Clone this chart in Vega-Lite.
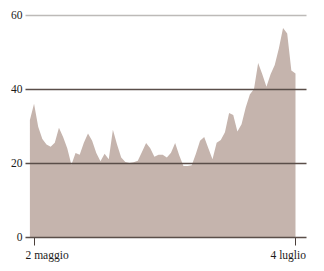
{
  "$schema": "https://vega.github.io/schema/vega-lite/v6.json",
  "autosize": {"type": "none"},
  "width": 281,
  "height": 222,
  "padding": {"left": 25, "top": 15, "right": 18, "bottom": 34},
  "background": "white",
  "config": {
    "view": {"stroke": null},
    "font": "Liberation Serif"
  },
  "data": {
    "values": [
      {"date": "2020-05-01", "value": 31.6},
      {"date": "2020-05-02", "value": 36},
      {"date": "2020-05-03", "value": 29.8},
      {"date": "2020-05-04", "value": 26.5},
      {"date": "2020-05-05", "value": 25},
      {"date": "2020-05-06", "value": 24.4},
      {"date": "2020-05-07", "value": 25.5},
      {"date": "2020-05-08", "value": 29.5},
      {"date": "2020-05-09", "value": 27},
      {"date": "2020-05-10", "value": 24},
      {"date": "2020-05-11", "value": 19.5},
      {"date": "2020-05-12", "value": 22.7},
      {"date": "2020-05-13", "value": 22.2},
      {"date": "2020-05-14", "value": 25.5},
      {"date": "2020-05-15", "value": 28},
      {"date": "2020-05-16", "value": 26},
      {"date": "2020-05-17", "value": 22.7},
      {"date": "2020-05-18", "value": 20.5},
      {"date": "2020-05-19", "value": 22.5},
      {"date": "2020-05-20", "value": 21},
      {"date": "2020-05-21", "value": 29},
      {"date": "2020-05-22", "value": 25},
      {"date": "2020-05-23", "value": 21.5},
      {"date": "2020-05-24", "value": 20.3},
      {"date": "2020-05-25", "value": 20},
      {"date": "2020-05-26", "value": 20.2},
      {"date": "2020-05-27", "value": 20.6},
      {"date": "2020-05-28", "value": 23},
      {"date": "2020-05-29", "value": 25.4},
      {"date": "2020-05-30", "value": 24},
      {"date": "2020-05-31", "value": 21.7},
      {"date": "2020-06-01", "value": 22.2},
      {"date": "2020-06-02", "value": 22.2},
      {"date": "2020-06-03", "value": 21.5},
      {"date": "2020-06-04", "value": 22.8},
      {"date": "2020-06-05", "value": 25.4},
      {"date": "2020-06-06", "value": 22},
      {"date": "2020-06-07", "value": 19.2},
      {"date": "2020-06-08", "value": 19.2},
      {"date": "2020-06-09", "value": 19.4},
      {"date": "2020-06-10", "value": 22.5},
      {"date": "2020-06-11", "value": 26},
      {"date": "2020-06-12", "value": 27},
      {"date": "2020-06-13", "value": 24},
      {"date": "2020-06-14", "value": 21},
      {"date": "2020-06-15", "value": 25.5},
      {"date": "2020-06-16", "value": 26.2},
      {"date": "2020-06-17", "value": 28.3},
      {"date": "2020-06-18", "value": 33.5},
      {"date": "2020-06-19", "value": 33},
      {"date": "2020-06-20", "value": 28.5},
      {"date": "2020-06-21", "value": 30.5},
      {"date": "2020-06-22", "value": 35},
      {"date": "2020-06-23", "value": 38.5},
      {"date": "2020-06-24", "value": 40},
      {"date": "2020-06-25", "value": 47},
      {"date": "2020-06-26", "value": 44},
      {"date": "2020-06-27", "value": 40.6},
      {"date": "2020-06-28", "value": 44},
      {"date": "2020-06-29", "value": 46.5},
      {"date": "2020-06-30", "value": 51},
      {"date": "2020-07-01", "value": 56.5},
      {"date": "2020-07-02", "value": 55},
      {"date": "2020-07-03", "value": 45},
      {"date": "2020-07-04", "value": 44.2}
    ]
  },
  "mark": {"type": "area", "color": "#c5b4ad", "opacity": 1},
  "encoding": {
    "x": {
      "field": "date",
      "type": "temporal",
      "scale": {
        "type": "utc",
        "domain": [
          {"year": 2020, "month": 4, "date": 29, "hours": 19, "minutes": 40, "utc": true},
          {"year": 2020, "month": 7, "date": 6, "hours": 12, "minutes": 45, "utc": true}
        ]
      },
      "axis": {
        "title": null,
        "grid": false,
        "domain": false,
        "values": [
          {"year": 2020, "month": 5, "date": 2, "utc": true},
          {"year": 2020, "month": 7, "date": 4, "utc": true}
        ],
        "labelExpr": "utcdate(datum.value) + ' ' + (utcmonth(datum.value) == 4 ? 'maggio' : 'luglio')",
        "labelAlign": {"condition": {"test": "utcmonth(datum.value) == 4", "value": "left"}, "value": "right"},
        "labelOffset": {"condition": {"test": "utcmonth(datum.value) == 4", "value": -9}, "value": 10},
        "tickSize": 8,
        "tickColor": "#4a3f3a",
        "tickWidth": 1,
        "labelPadding": 4,
        "labelFontSize": 11.5,
        "labelColor": "#1a1a1a",
        "labelFont": "Liberation Serif"
      }
    },
    "y": {
      "field": "value",
      "type": "quantitative",
      "scale": {"domain": [0, 60], "nice": false},
      "axis": {
        "title": null,
        "values": [0, 20, 40, 60],
        "domain": false,
        "ticks": false,
        "grid": true,
        "zindex": 1,
        "gridColor": {"condition": {"test": "datum.value == 60", "value": "#bdbab8"}, "value": "#5a4e49"},
        "gridWidth": {"condition": {"test": "datum.value == 0", "value": 1.7}, "value": 1.3},
        "gridOpacity": 1,
        "labelPadding": 3,
        "labelFontSize": 11.5,
        "labelColor": "#1a1a1a",
        "labelFont": "Liberation Serif"
      }
    }
  }
}
